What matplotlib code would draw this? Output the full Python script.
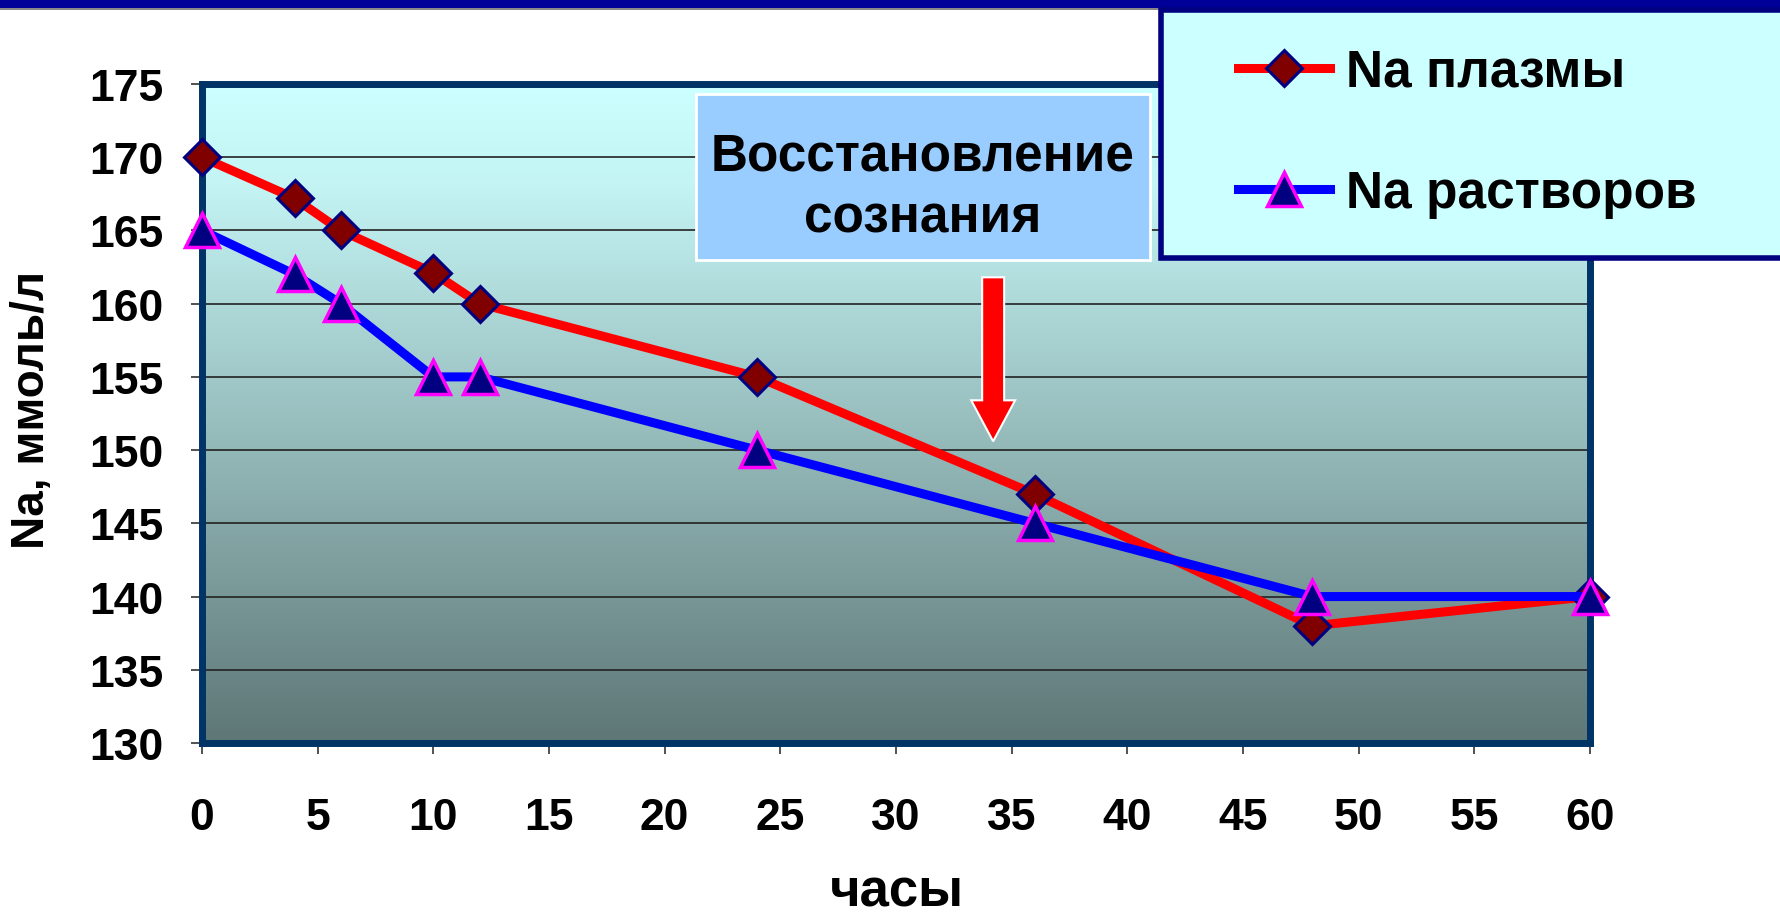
import numpy as np
import matplotlib.pyplot as plt
from matplotlib.patches import Rectangle, FancyArrow
from matplotlib.colors import LinearSegmentedColormap

plt.rcParams['font.family'] = ['Liberation Sans', 'DejaVu Sans']
plt.rcParams['font.weight'] = 'bold'

hours = [0, 4, 6, 10, 12, 24, 36, 48, 60]
na_plasma = [170, 167.2, 165, 162.1, 160, 155, 147, 138, 140]
na_solution = [165, 162, 160, 155, 155, 150, 145, 140, 140]

x_ticks = list(range(0, 61, 5))
y_ticks = list(range(130, 176, 5))

W, H = 1781, 920
fig = plt.figure(figsize=(W / 100, H / 100), dpi=100)


def px(x, y):
    # pixel position from the top-left corner -> figure fraction
    return x / W, 1 - y / H


# dark band across the top
fig.patches.append(Rectangle(px(0, 9), 1, 9 / H, transform=fig.transFigure,
                             facecolor='#000099', edgecolor='none', zorder=0))
fig.patches.append(Rectangle(px(0, 11), 1, 2 / H, transform=fig.transFigure,
                             facecolor='#888888', edgecolor='none', zorder=0))

ax = fig.add_axes([202 / W, 1 - 744 / H, (1590 - 202) / W, (744 - 85) / H])
ax.set_xlim(0, 60)
ax.set_ylim(130, 175)

# vertical gradient fill of the plot area
grad = LinearSegmentedColormap.from_list('bg', [(0, '#5E7676'), (0.85, '#C4F4F4'), (1, '#CCFFFF')])
ax.imshow(np.linspace(0, 1, 256).reshape(-1, 1), cmap=grad, origin='lower',
          extent=[0, 60, 130, 175], aspect='auto', zorder=0)

for y in y_ticks[1:-1]:
    ax.axhline(y, color='#222222', lw=1.2, zorder=1)

ax.plot(hours, na_plasma, color='#FF0000', lw=6.5, marker='D', markersize=18,
        markerfacecolor='#800000', markeredgecolor='#000080', markeredgewidth=2.2,
        label='Na плазмы', zorder=4, clip_on=False)
ax.plot(hours, na_solution, color='#0000FF', lw=6.5, marker='^', markersize=24,
        markerfacecolor='#000080', markeredgecolor='#FF00FF', markeredgewidth=2.5,
        label='Na растворов', zorder=5, clip_on=False)

for s in ax.spines.values():
    s.set_color('#003366')
    s.set_linewidth(5)

ax.set_xticks(x_ticks)
ax.set_yticks(y_ticks)
ax.tick_params(axis='both', direction='out', length=8, width=1.2, color='#333333')
ax.tick_params(axis='y', pad=20)
ax.tick_params(axis='x', pad=31)
for lbl in ax.get_xticklabels() + ax.get_yticklabels():
    lbl.set_fontsize(32)
    lbl.set_fontweight('bold')

fig.text(*px(32, 410), 'Na, ммоль/л', rotation=90, ha='center', va='center',
         fontsize=33, fontweight='bold')
fig.text(*px(897, 893), 'часы', ha='center', va='center',
         fontsize=38, fontweight='bold')

# note box with arrow
fig.patches.append(Rectangle(px(696, 261), 454 / W, 166 / H, transform=fig.transFigure,
                             facecolor='#99CCFF', edgecolor='white', lw=2, zorder=5))
fig.text(*px(923, 188), 'Восстановление\nсознания', ha='center', va='center',
         fontsize=37, fontweight='bold', linespacing=1.36, zorder=6)
ax.add_patch(FancyArrow(34.2, 161.8, 0, -11.2, width=0.95, head_width=1.9,
                        head_length=2.8, length_includes_head=True,
                        facecolor='#FF0000', edgecolor='white', lw=1.5, zorder=6))

# legend box at the top right
fig.patches.append(Rectangle(px(1161, 259), 700 / W, 248 / H,
                             transform=fig.transFigure, facecolor='#CCFFFF',
                             edgecolor='#000080', lw=4, zorder=3))
leg = fig.legend(loc='center left', bbox_to_anchor=px(1238, 134),
                 frameon=False, handlelength=1.8, handletextpad=0.3,
                 labelspacing=1.42, borderpad=0, borderaxespad=0,
                 prop={'weight': 'bold', 'size': 37})
leg.set_zorder(10)

fig.savefig('out.png', dpi=100)
